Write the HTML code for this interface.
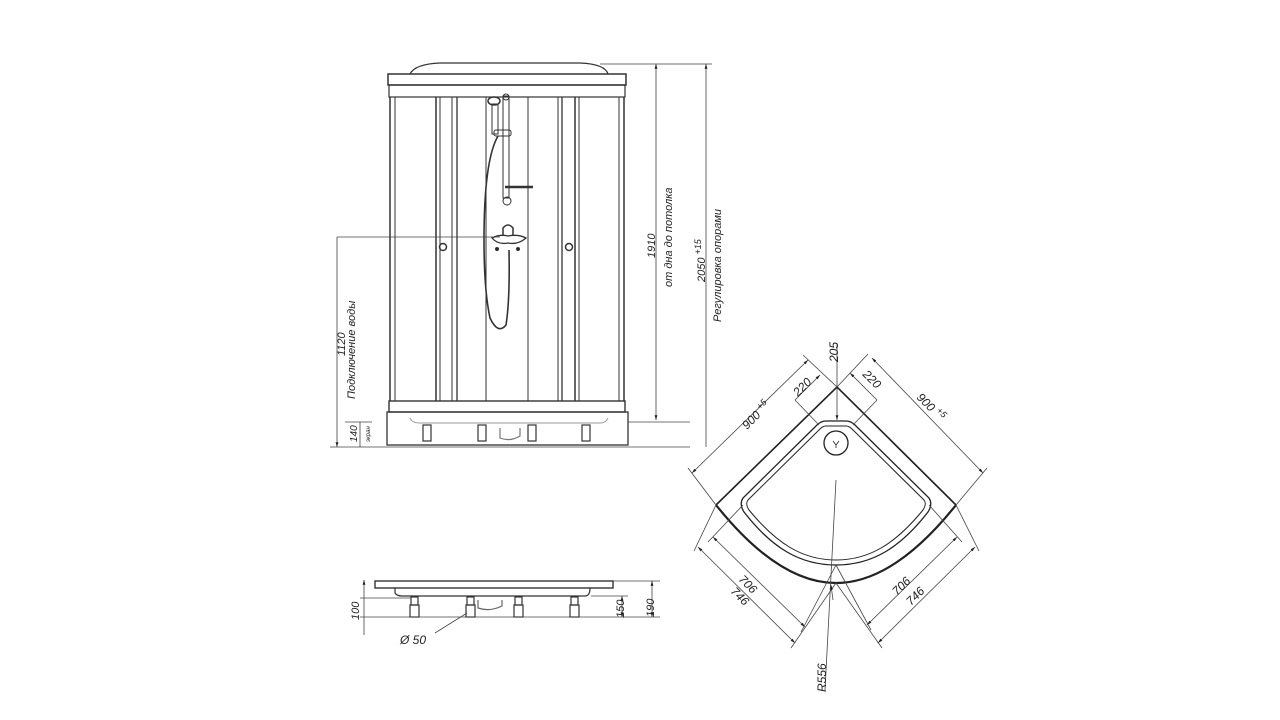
<!DOCTYPE html>
<html><head><meta charset="utf-8"><style>
html,body{margin:0;padding:0;background:#fff;width:1280px;height:720px;overflow:hidden}
svg{display:block}
text{font-family:"Liberation Sans",sans-serif;font-style:italic;fill:#222}
</style></head><body>
<svg width="1280" height="720" viewBox="0 0 1280 720" xmlns="http://www.w3.org/2000/svg">
<defs>
<marker id="a" viewBox="0 0 10 10" refX="10" refY="5" markerWidth="6" markerHeight="6" orient="auto-start-reverse"><path d="M0,2 L10,5 L0,8 z" fill="#222"/></marker>
</defs>
<g fill="none" stroke="#333" stroke-width="1">
<path d="M410,74 Q415,64 440,63 L580,63 Q605,64 608,74" stroke-width="1.3"/>
<rect x="388" y="74" width="238" height="11" stroke-width="1.5"/>
<rect x="389" y="85" width="236" height="12" stroke-width="1.2"/>
<line x1="390" y1="97" x2="390" y2="401" stroke-width="1.5"/>
<line x1="395" y1="97" x2="395" y2="401"/>
<line x1="624" y1="97" x2="624" y2="401" stroke-width="1.5"/>
<line x1="619" y1="97" x2="619" y2="401"/>
<line x1="436" y1="97" x2="436" y2="401" stroke-width="1.5"/>
<line x1="440" y1="97" x2="440" y2="401"/>
<line x1="452" y1="97" x2="452" y2="401"/>
<line x1="457" y1="97" x2="457" y2="401" stroke-width="1.3"/>
<line x1="486" y1="97" x2="486" y2="401"/>
<line x1="528" y1="97" x2="528" y2="401"/>
<line x1="558" y1="97" x2="558" y2="401"/>
<line x1="562" y1="97" x2="562" y2="401" stroke-width="1.3"/>
<line x1="575" y1="97" x2="575" y2="401" stroke-width="1.5"/>
<line x1="579" y1="97" x2="579" y2="401"/>
<circle cx="443" cy="247" r="3.5" stroke-width="1.5"/>
<circle cx="569" cy="247" r="3.5" stroke-width="1.5"/>
<ellipse cx="494" cy="101" rx="6" ry="4" stroke-width="1.5"/>
<rect x="492" y="104" width="6" height="30"/>
<rect x="503" y="96" width="6" height="102"/>
<circle cx="506" cy="97" r="3"/>
<rect x="494" y="130" width="17" height="6" rx="2"/>
<line x1="505" y1="187" x2="533" y2="187" stroke-width="2.5"/>
<circle cx="507" cy="201" r="4"/>
<path d="M498,136 Q484,160 484,240 Q484,290 490,318 Q498,335 506,325 Q510,300 509,250" stroke-width="1.6"/>
<path d="M503,235 L503,228 Q508,222 513,228 L513,235" stroke-width="1.5"/>
<path d="M492,238 Q500,234 508,236 Q518,234 526,238 Q518,245 508,243 Q498,245 492,238z" stroke-width="1.3"/>
<circle cx="497" cy="249" r="1.5" fill="#222"/>
<circle cx="518" cy="249" r="1.5" fill="#222"/>
<rect x="389" y="401" width="236" height="11" stroke-width="1.4"/>
<rect x="387" y="412" width="241" height="33" stroke-width="1.3"/>
<path d="M410,418 Q412,423 420,423 L600,423 Q606,423 608,418" stroke="#999"/>
<g stroke-width="1.2">
<rect x="423" y="425" width="8" height="16"/><rect x="478" y="425" width="8" height="16"/>
<rect x="528" y="425" width="8" height="16"/><rect x="582" y="425" width="8" height="16"/>
<path d="M500,428 L500,438 Q510,442 520,436 L520,428" stroke="#777"/>
</g>
<g stroke-width="0.8" stroke="#444">
<line x1="337" y1="237" x2="500" y2="237"/>
<line x1="337" y1="237" x2="337" y2="447" marker-end="url(#a)"/>
<line x1="330" y1="447" x2="690" y2="447"/>
<line x1="345" y1="422" x2="372" y2="422"/>
<line x1="360" y1="422" x2="360" y2="447"/>
<line x1="600" y1="64" x2="712" y2="64"/>
<line x1="656" y1="64" x2="656" y2="420" marker-start="url(#a)" marker-end="url(#a)"/>
<line x1="628" y1="422" x2="690" y2="422"/>
<line x1="706" y1="64" x2="706" y2="447" marker-start="url(#a)"/>
</g>
</g>
<text transform="translate(655,258) rotate(-90)" font-size="11">1910</text>
<text transform="translate(672,287) rotate(-90)" font-size="11">от дна до потолка</text>
<text transform="translate(705,282) rotate(-90)" font-size="11">2050 <tspan dy="-4" font-size="9">+15</tspan></text>
<text transform="translate(721,322) rotate(-90)" font-size="11">Регулировка опорами</text>
<text transform="translate(345,356) rotate(-90)" font-size="11">1120</text>
<text transform="translate(355,399) rotate(-90)" font-size="11">Подключение воды</text>
<text transform="translate(357,442) rotate(-90)" font-size="10">140</text>
<text transform="translate(370,442) rotate(-90)" font-size="6">экран</text>

<g fill="none" stroke="#333">
<rect x="375" y="581" width="238" height="7" stroke-width="1.4"/>
<path d="M395,588 L395,593 Q397,596 402,596 L585,596 Q590,596 590,588" stroke-width="1.2"/>
<g stroke-width="1.2">
<rect x="411" y="597" width="7" height="8"/><rect x="410" y="605" width="9" height="12"/>
<rect x="467" y="597" width="7" height="8"/><rect x="466" y="605" width="9" height="12"/>
<rect x="515" y="597" width="7" height="8"/><rect x="514" y="605" width="9" height="12"/>
<rect x="571" y="597" width="7" height="8"/><rect x="570" y="605" width="9" height="12"/>
<path d="M478,600 L478,608 Q490,612 502,606 L502,600" stroke="#666"/>
</g>
<g stroke-width="0.8" stroke="#444">
<line x1="360" y1="598" x2="411" y2="598"/>
<line x1="360" y1="617" x2="660" y2="617"/>
<line x1="364" y1="580" x2="364" y2="635" marker-start="url(#a)"/>
<line x1="613" y1="581" x2="660" y2="581"/>
<line x1="591" y1="596" x2="628" y2="596"/>
<line x1="622" y1="596" x2="622" y2="617" marker-start="url(#a)" marker-end="url(#a)"/>
<line x1="652" y1="581" x2="652" y2="617" marker-start="url(#a)" marker-end="url(#a)"/>
<line x1="435" y1="633" x2="467" y2="613"/>
</g>
</g>
<text transform="translate(359,620) rotate(-90)" font-size="11">100</text>
<text transform="translate(624,618) rotate(-90)" font-size="11">150</text>
<text transform="translate(654,617) rotate(-90)" font-size="11">190</text>
<text x="400" y="644" font-size="12">Ø 50</text>

<g fill="none" stroke="#222">
<path d="M716,505 L837,387 L956,505" stroke-width="1.6"/>
<path d="M716,505 C760,560 800,583 836,583 C872,583 912,560 956,505" stroke-width="2.2"/>
<path d="M826,421 L846,421 Q851,421 855,425 L929,498 Q933,504 928,512 C900,548 872,565 836,565 C800,565 772,548 744,512 Q739,504 743,498 L817,425 Q821,421 826,421z" stroke-width="1.3"/>
<path d="M826,426 L846,426 Q849,426 852,429 L924,500 Q927,504 923,510 C896,543 870,560 836,560 C802,560 776,543 749,510 Q745,504 748,500 L820,429 Q823,426 826,426z" stroke-width="1"/>
<circle cx="836" cy="443" r="12" stroke-width="1.3"/>
<path d="M833,441 L836,445 L839,441 M836,445 L836,448" stroke-width="0.8"/>
<g stroke-width="0.8" stroke="#444">
<line x1="692" y1="473" x2="808" y2="360" marker-start="url(#a)" marker-end="url(#a)"/>
<line x1="716" y1="505" x2="688" y2="468"/>
<line x1="837" y1="387" x2="803" y2="355"/>
<line x1="872" y1="358" x2="983" y2="473" marker-start="url(#a)" marker-end="url(#a)"/>
<line x1="837" y1="387" x2="868" y2="354"/>
<line x1="956" y1="505" x2="987" y2="468"/>
<line x1="795" y1="400" x2="820" y2="375" marker-end="url(#a)"/>
<line x1="795" y1="400" x2="819" y2="425"/>
<line x1="850" y1="373" x2="877" y2="400" marker-start="url(#a)"/>
<line x1="877" y1="400" x2="853" y2="425"/>
<line x1="837" y1="343" x2="837" y2="420" marker-end="url(#a)"/>
<line x1="713" y1="537" x2="805" y2="627" marker-start="url(#a)" marker-end="url(#a)"/>
<line x1="698" y1="547" x2="795" y2="643" marker-start="url(#a)" marker-end="url(#a)"/>
<line x1="743" y1="505" x2="708" y2="542"/>
<line x1="716" y1="505" x2="694" y2="551"/>
<line x1="836" y1="565" x2="801" y2="632"/>
<line x1="836" y1="583" x2="791" y2="648"/>
<line x1="957" y1="537" x2="867" y2="625" marker-start="url(#a)" marker-end="url(#a)"/>
<line x1="975" y1="547" x2="878" y2="643" marker-start="url(#a)" marker-end="url(#a)"/>
<line x1="929" y1="505" x2="962" y2="542"/>
<line x1="956" y1="505" x2="979" y2="551"/>
<line x1="836" y1="565" x2="871" y2="630"/>
<line x1="836" y1="583" x2="882" y2="648"/>
<line x1="836" y1="480" x2="825" y2="690"/>
<line x1="831" y1="585" x2="833" y2="600" marker-start="url(#a)"/>
</g>
</g>
<text transform="translate(747,430) rotate(-45)" font-size="12">900 <tspan dy="-5" font-size="9">+5</tspan></text>
<text transform="translate(916,398) rotate(45)" font-size="12">900 <tspan dy="-5" font-size="9">+5</tspan></text>
<text transform="translate(798,397) rotate(-45)" font-size="12">220</text>
<text transform="translate(862,375) rotate(45)" font-size="12">220</text>
<text transform="translate(838,362) rotate(-90)" font-size="12">205</text>
<text transform="translate(738,580) rotate(45)" font-size="12">706</text>
<text transform="translate(730,592) rotate(45)" font-size="12">746</text>
<text transform="translate(897,596) rotate(-45)" font-size="12">706</text>
<text transform="translate(911,606) rotate(-45)" font-size="12">746</text>
<text transform="translate(826,692) rotate(-90)" font-size="12">R556</text>
</svg>
</body></html>
